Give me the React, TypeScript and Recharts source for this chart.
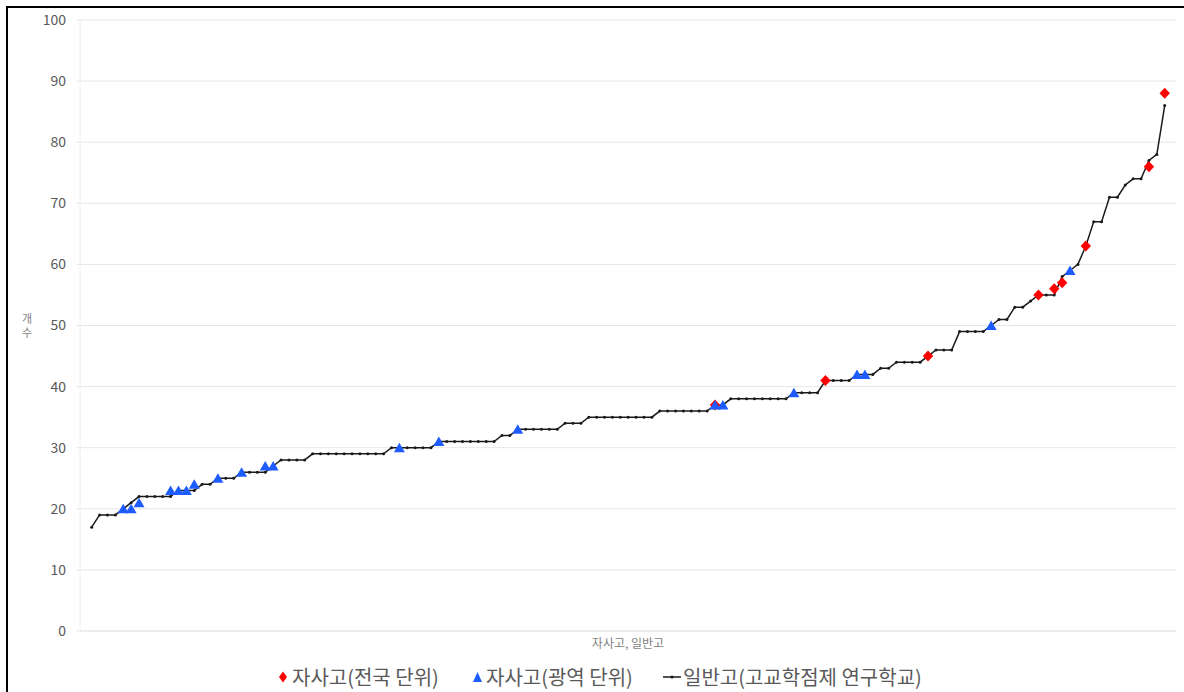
import React from 'react';
import { ComposedChart, Line, Scatter, XAxis, YAxis, CartesianGrid } from 'recharts';

// 일반고(고교학점제 연구학교): value by rank 0..136
const generalValues = [
  17, 19, 19, 19, 20, 21, 22, 22, 22, 22,
  22, 23, 23, 23, 24, 24, 25, 25, 25, 26,
  26, 26, 26, 27, 28, 28, 28, 28, 29, 29,
  29, 29, 29, 29, 29, 29, 29, 29, 30, 30,
  30, 30, 30, 30, 31, 31, 31, 31, 31, 31,
  31, 31, 32, 32, 33, 33, 33, 33, 33, 33,
  34, 34, 34, 35, 35, 35, 35, 35, 35, 35,
  35, 35, 36, 36, 36, 36, 36, 36, 36, 37,
  37, 38, 38, 38, 38, 38, 38, 38, 38, 39,
  39, 39, 39, 41, 41, 41, 41, 42, 42, 42,
  43, 43, 44, 44, 44, 44, 45, 46, 46, 46,
  49, 49, 49, 49, 50, 51, 51, 53, 53, 54,
  55, 55, 55, 58, 59, 60, 63, 67, 67, 71,
  71, 73, 74, 74, 77, 78, 86,
];

// 자사고(전국 단위)
const nationalRanks = [79, 93, 106, 120, 122, 123, 126, 134, 136];
const nationalValues = [37, 41, 45, 55, 56, 57, 63, 76, 88];

// 자사고(광역 단위)
const regionalRanks = [4, 5, 6, 10, 11, 12, 13, 16, 19, 22, 23, 39, 44, 54, 79, 80, 89, 97, 98, 114, 124];
const regionalValues = [20, 20, 21, 23, 23, 23, 24, 25, 26, 27, 27, 30, 31, 33, 37, 37, 39, 42, 42, 50, 59];

const yTicks = [0, 10, 20, 30, 40, 50, 60, 70, 80, 90, 100];
const legendLabels = ['자사고(전국 단위)', '자사고(광역 단위)', '일반고(고교학점제 연구학교)'];
const xAxisTitle = '자사고, 일반고';
const yAxisTitle = ['개', '수'];

const generalData = generalValues.map((v, i) => ({ x: i, y: v }));
const nationalData = nationalRanks.map((r, i) => ({ x: r, y: nationalValues[i] }));
const regionalData = regionalRanks.map((r, i) => ({ x: r, y: regionalValues[i] }));

const FONT = "'Noto Sans CJK KR', 'Noto Sans', sans-serif";
const RED = '#ff0000';
const BLUE = '#1f5cff';
const BLACK = '#1a1a1a';
const GRID = '#e6e6e6';

const Diamond = (props: any) => {
  const { cx, cy } = props;
  if (cx == null || cy == null) return null;
  return (
    <polygon
      points={`${cx},${cy - 5.5} ${cx + 5.2},${cy} ${cx},${cy + 5.5} ${cx - 5.2},${cy}`}
      fill={RED}
    />
  );
};

const Triangle = (props: any) => {
  const { cx, cy } = props;
  if (cx == null || cy == null) return null;
  return (
    <polygon
      points={`${cx},${cy - 5} ${cx + 5.5},${cy + 4.5} ${cx - 5.5},${cy + 4.5}`}
      fill={BLUE}
    />
  );
};

const legendTextStyle: React.CSSProperties = {
  position: 'absolute',
  top: 656,
  fontSize: 20,
  lineHeight: '26px',
  color: '#595959',
  whiteSpace: 'nowrap',
};

export default function App() {
  return (
    <div
      style={{
        position: 'absolute',
        left: 6,
        top: 6,
        width: 1176,
        height: 684,
        border: '2px solid #000',
        background: '#fff',
        fontFamily: FONT,
      }}
    >
      <ComposedChart
        width={1176}
        height={684}
        margin={{ top: 12, right: 8, bottom: 0, left: 0 }}
      >
        <CartesianGrid vertical={false} stroke={GRID} />
        <XAxis
          dataKey="x"
          type="number"
          domain={[-1.48, 137.43]}
          allowDataOverflow
          tick={false}
          tickLine={false}
          axisLine={{ stroke: GRID }}
          height={61}
          label={{
            value: xAxisTitle,
            position: 'insideTop',
            offset: 8,
            fill: '#7f7f7f',
            fontSize: 12,
            fontFamily: FONT,
          }}
        />
        <YAxis
          type="number"
          domain={[0, 100]}
          ticks={yTicks}
          width={72}
          tickSize={4}
          tickMargin={10}
          tickLine={{ stroke: GRID }}
          axisLine={{ stroke: '#ececec' }}
          tick={{ fill: '#595959', fontSize: 14, fontFamily: FONT }}
        />
        <Line
          data={generalData}
          dataKey="y"
          stroke={BLACK}
          strokeWidth={1.5}
          dot={{ r: 1.5, fill: BLACK, stroke: 'none' }}
          activeDot={false}
          isAnimationActive={false}
        />
        <Scatter data={nationalData} dataKey="y" shape={Diamond} isAnimationActive={false} />
        <Scatter data={regionalData} dataKey="y" shape={Triangle} isAnimationActive={false} />
      </ComposedChart>

      <div
        style={{
          position: 'absolute',
          left: 13,
          top: 303,
          width: 12,
          textAlign: 'center',
          fontSize: 11,
          lineHeight: '14px',
          color: '#7f7f7f',
        }}
      >
        {yAxisTitle.map((c) => (
          <div key={c}>{c}</div>
        ))}
      </div>

      <svg style={{ position: 'absolute', left: 271, top: 663 }} width={8} height={12}>
        <polygon points="4,0.5 8,6 4,11.5 0,6" fill={RED} />
      </svg>
      <span style={{ ...legendTextStyle, left: 284 }}>{legendLabels[0]}</span>

      <svg style={{ position: 'absolute', left: 465, top: 664 }} width={9} height={10}>
        <polygon points="4.5,0 9,10 0,10" fill={BLUE} />
      </svg>
      <span style={{ ...legendTextStyle, left: 478 }}>{legendLabels[1]}</span>

      <svg style={{ position: 'absolute', left: 655, top: 664 }} width={18} height={10}>
        <line x1={0} y1={5} x2={18} y2={5} stroke={BLACK} strokeWidth={1.5} />
        <circle cx={9} cy={5} r={1.6} fill={BLACK} />
      </svg>
      <span style={{ ...legendTextStyle, left: 675 }}>{legendLabels[2]}</span>
    </div>
  );
}
